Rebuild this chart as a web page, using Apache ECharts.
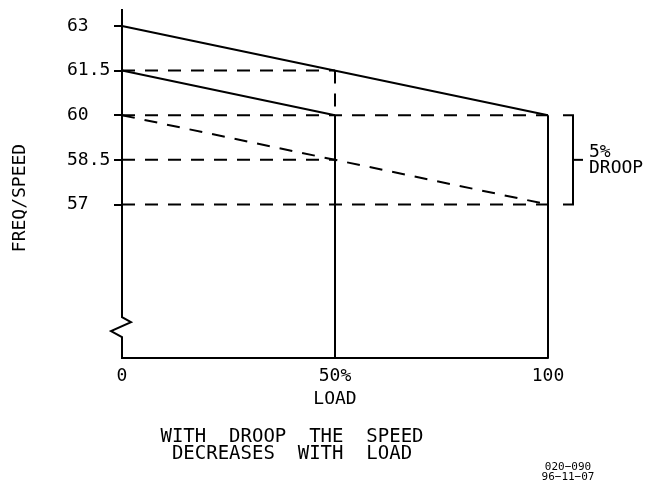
<!DOCTYPE html>
<html>
<head>
<meta charset="utf-8">
<script src="https://cdn.jsdelivr.net/npm/echarts@6/dist/echarts.min.js"></script>
<style>
  html, body { margin: 0; padding: 0; background: #fff; }
  #chart { width: 658px; height: 484px; }
</style>
</head>
<body>
<div id="chart"></div>
<script>
// Load axis (percent of rated load)
const loadTicks = [0, 50, 100];
const loadTickLabels = ['0', '50%', '100'];

// Frequency / speed axis
const speedTicks = [57, 58.5, 60, 61.5, 63];
const speedTickLabels = ['57', '58.5', '60', '61.5', '63'];

// Droop curves: [load, speed] pairs
const droopFromHigh = [[0, 63], [100, 60]];     // 63 no-load -> 60 full load
const droopHalfLoad = [[0, 61.5], [50, 60]];    // 61.5 no-load -> 60 at half load
const droopFromRated = [[0, 60], [100, 57]];    // 60 no-load -> 57 full load

// Dashed reference levels: [speed, load where the line ends]
const refLevels = [[61.5, 50], [60, 100], [58.5, 50], [57, 100]];

// Vertical drop at half load, and the full-load / half-load verticals
const halfLoadDrop = [[50, 61.5], [50, 60]];
const loadVerticals = [[50, 60], [100, 60]];

// Droop bracket range
const droopRange = [57, 60];
const droopLabel = '5%\nDROOP';

// Axis extent and the break marker on the speed axis
const yMin = 51.84, yMax = 63.57;
const axisBreakAt = 52.88;

const FONT = '"DejaVu Sans Mono", "Liberation Mono", monospace';
const DASH = [13, 10];

const chart = echarts.init(document.getElementById('chart'), null, { renderer: 'canvas' });

const series = [];

function lineSeries(data, dashed) {
  return {
    type: 'line',
    data: data,
    symbol: 'none',
    silent: true,
    animation: false,
    lineStyle: { color: '#000', width: 2, type: dashed ? DASH : 'solid' }
  };
}

refLevels.forEach(([v, end]) => series.push(lineSeries([[0, v], [end, v]], true)));
series.push(lineSeries(halfLoadDrop, true));
series.push(lineSeries(droopFromRated, true));
series.push(lineSeries(droopFromHigh, false));
series.push(lineSeries(droopHalfLoad, false));
loadVerticals.forEach(([x, v]) => series.push(lineSeries([[x, v], [x, yMin]], false)));

// Speed axis line with a zigzag break near the bottom
series.push({
  type: 'custom',
  clip: false,
  silent: true,
  animation: false,
  data: [[0, yMax]],
  renderItem: function (params, api) {
    const top = api.coord([0, yMax]);
    const br = api.coord([0, axisBreakAt]);
    const bot = api.coord([0, yMin]);
    const x = top[0];
    return {
      type: 'polyline',
      shape: {
        points: [
          [x, top[1]], [x, br[1] - 10], [x + 9, br[1] - 5],
          [x - 11, br[1] + 4], [x, br[1] + 10], [x, bot[1] + 1]
        ]
      },
      style: { stroke: '#000', lineWidth: 2, fill: null }
    };
  }
});

// Droop bracket with its label
series.push({
  type: 'custom',
  clip: false,
  silent: true,
  animation: false,
  data: [[100, droopRange[1]]],
  renderItem: function (params, api) {
    const hi = api.coord([100, droopRange[1]]);
    const lo = api.coord([100, droopRange[0]]);
    const bx = hi[0] + 25;
    const mid = (hi[1] + lo[1]) / 2;
    return {
      type: 'group',
      children: [
        {
          type: 'polyline',
          shape: { points: [[bx - 10, hi[1]], [bx, hi[1]], [bx, lo[1]], [bx - 10, lo[1]]] },
          style: { stroke: '#000', lineWidth: 2, fill: null }
        },
        {
          type: 'line',
          shape: { x1: bx, y1: mid, x2: bx + 10, y2: mid },
          style: { stroke: '#000', lineWidth: 2 }
        },
        {
          type: 'text',
          x: bx + 16,
          y: mid,
          style: {
            text: droopLabel,
            fill: '#000',
            font: '18px ' + FONT,
            lineHeight: 16,
            align: 'left',
            verticalAlign: 'middle'
          }
        }
      ]
    };
  }
});

chart.setOption({
  animation: false,
  backgroundColor: '#fff',
  grid: { left: 122, right: 110, top: 9, bottom: 126, containLabel: false },
  xAxis: {
    type: 'value',
    min: 0,
    max: 100,
    axisLine: { show: true, lineStyle: { color: '#000', width: 2 } },
    axisTick: { show: false },
    splitLine: { show: false },
    axisLabel: {
      customValues: loadTicks,
      margin: 9,
      color: '#000',
      fontFamily: FONT,
      fontSize: 18,
      formatter: function (v) {
        const i = loadTicks.indexOf(v);
        return i >= 0 ? loadTickLabels[i] : '';
      }
    },
    name: 'LOAD',
    nameLocation: 'middle',
    nameGap: 31,
    nameTextStyle: { color: '#000', fontFamily: FONT, fontSize: 18 }
  },
  yAxis: {
    type: 'value',
    min: yMin,
    max: yMax,
    axisLine: { show: false },
    axisTick: {
      show: true,
      customValues: speedTicks,
      length: 8,
      inside: false,
      lineStyle: { color: '#000', width: 2 }
    },
    splitLine: { show: false },
    axisLabel: {
      customValues: speedTicks,
      margin: 55,
      align: 'left',
      color: '#000',
      fontFamily: FONT,
      fontSize: 18,
      formatter: function (v) {
        const i = speedTicks.indexOf(v);
        return i >= 0 ? speedTickLabels[i] : '';
      }
    }
  },
  graphic: [
    {
      type: 'text',
      x: 20,
      y: 198,
      rotation: Math.PI / 2,
      style: {
        text: 'FREQ/SPEED',
        fill: '#000',
        font: '18px ' + FONT,
        align: 'center',
        verticalAlign: 'middle'
      }
    },
    {
      type: 'text',
      x: 292,
      y: 446,
      style: {
        text: 'WITH  DROOP  THE  SPEED\nDECREASES  WITH  LOAD',
        fill: '#000',
        font: '19px ' + FONT,
        lineHeight: 17,
        align: 'center',
        verticalAlign: 'middle'
      }
    },
    {
      type: 'text',
      x: 568,
      y: 472,
      style: {
        text: '020\u2212090\n96\u221211\u221207',
        fill: '#000',
        font: '11px ' + FONT,
        lineHeight: 10,
        align: 'center',
        verticalAlign: 'middle'
      }
    }
  ],
  series: series
});
</script>
</body>
</html>
